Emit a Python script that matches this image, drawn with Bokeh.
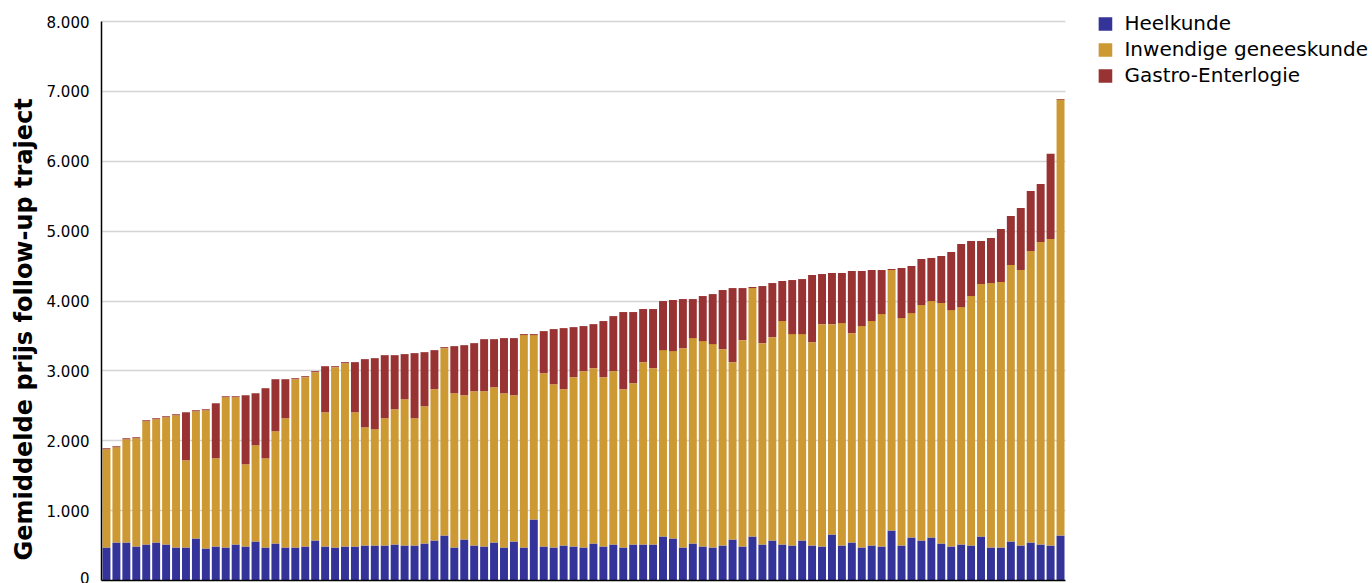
from bokeh.plotting import figure
from bokeh.models import (ColumnDataSource, Range1d, FixedTicker, Legend, LegendItem, Title)
from bokeh.embed import file_html
from bokeh.resources import INLINE

# ---- data ----
ziekenhuis = list(range(1, 98))

heelkunde = [473, 545, 545, 487, 516, 545, 516, 473, 473, 602,
             459, 487, 473, 516, 487, 559, 473, 530, 473, 473,
             487, 573, 487, 473, 487, 487, 502, 502, 502, 516,
             502, 502, 530, 573, 645, 473, 588, 502, 487, 545,
             473, 559, 473, 874, 487, 473, 502, 487, 473, 530,
             487, 516, 473, 516, 516, 516, 631, 602, 473, 530,
             487, 473, 502, 588, 487, 631, 516, 573, 516, 502,
             573, 502, 487, 659, 502, 545, 473, 502, 487, 717,
             502, 616, 573, 616, 530, 487, 516, 502, 631, 473,
             473, 559, 502, 545, 516, 502, 645]

inwendige = [1405, 1361, 1476, 1548, 1763, 1763, 1820, 1892, 1247, 1820,
             1978, 1262, 2150, 2107, 1176, 1376, 1276, 1606, 1849, 2408,
             2423, 2408, 1921, 2580, 2623, 1921, 1691, 1662, 1820, 1935,
             2092, 1820, 1964, 2165, 2680, 2207, 2064, 2207, 2222, 2221,
             2207, 2093, 3039, 2638, 2480, 2336, 2236, 2423, 2523, 2509,
             2423, 2480, 2265, 2308, 2609, 2523, 2666, 2681, 2852, 2939,
             2939, 2910, 2809, 2537, 2953, 3554, 2881, 2910, 3197, 3024,
             2953, 2909, 3182, 3010, 3182, 2995, 3168, 3211, 3326, 3727,
             3254, 3211, 3369, 3383, 3441, 3383, 3397, 3569, 3612, 3784,
             3799, 3956, 3942, 4171, 4329, 4386, 6236]

gastro = [14, 15, 14, 15, 14, 14, 15, 14, 688, 15,
          14, 788, 14, 14, 989, 745, 1003, 745, 559, 14,
          14, 15, 659, 14, 15, 717, 975, 1018, 903, 774,
          646, 932, 774, 559, 15, 674, 716, 688, 745, 688,
          789, 817, 14, 14, 602, 789, 874, 716, 645, 630,
          803, 788, 1104, 1018, 760, 846, 702, 731, 703, 559,
          645, 716, 846, 1060, 745, 15, 817, 774, 573, 774,
          788, 961, 717, 732, 717, 889, 788, 731, 631, 14,
          716, 674, 659, 617, 673, 832, 903, 788, 616, 645,
          759, 703, 888, 860, 831, 1218, 10]

series_names = ["Heelkunde", "Inwendige geneeskunde", "Gastro-Enterlogie"]
series_colors = ["#333399", "#CC9933", "#993333"]

y_ticks = [0, 1000, 2000, 3000, 4000, 5000, 6000, 7000, 8000]
y_tick_labels = ["0", "1.000", "2.000", "3.000", "4.000", "5.000", "6.000", "7.000", "8.000"]
y_label = "Gemiddelde prijs follow-up traject"

# ---- layout (pixels) ----
W, H = 1368, 583
LEFT, BAR_RIGHT = 101, 1065           # bar area spans x = 101 .. 1065
FRAME_TOP, FRAME_BOTTOM, GRID_TOP = 11, 580, 21
n = len(ziekenhuis)
x_start = 0.5
x_bar_end = n + 0.5
x_end = x_start + (x_bar_end - x_start) * (W - LEFT) / (BAR_RIGHT - LEFT)
y_max = y_ticks[-1]
y_end = y_max * (FRAME_BOTTOM - FRAME_TOP) / (FRAME_BOTTOM - GRID_TOP)

source = ColumnDataSource(dict(x=ziekenhuis, heelkunde=heelkunde,
                               inwendige=inwendige, gastro=gastro))

p = figure(width=W, height=H, output_backend="svg", toolbar_location=None,
           x_range=Range1d(x_start, x_end), y_range=Range1d(0, y_end))
p.min_border_left = LEFT
p.min_border_right = 0
p.min_border_top = FRAME_TOP
p.min_border_bottom = H - FRAME_BOTTOM
p.outline_line_color = None
p.background_fill_color = "white"

renderers = p.vbar_stack(["heelkunde", "inwendige", "gastro"], x="x", width=0.8,
                         color=series_colors, line_width=0, source=source)

# axes
p.xaxis.ticker = FixedTicker(ticks=[])
p.xaxis.bounds = (x_start, x_bar_end)
p.xaxis.axis_line_color = "black"
p.xaxis.axis_line_width = 1.5
p.xaxis.major_tick_line_color = None
p.xaxis.minor_tick_line_color = None
p.xaxis.major_label_standoff = 0
p.xaxis.major_label_text_font_size = "1px"

p.yaxis.ticker = FixedTicker(ticks=y_ticks)
p.yaxis.bounds = (0, y_max)
p.yaxis.major_label_overrides = {t: l for t, l in zip(y_ticks, y_tick_labels)}
p.yaxis.axis_line_color = "black"
p.yaxis.axis_line_width = 1.5
p.yaxis.major_tick_line_color = None
p.yaxis.minor_tick_line_color = None
p.yaxis.major_tick_out = 0
p.yaxis.major_label_standoff = 12
p.yaxis.major_label_text_font = "DejaVu Sans"
p.yaxis.major_label_text_font_size = "15px"
p.yaxis.major_label_text_color = "black"

ytitle = Title(text=y_label, align="left", offset=20, standoff=12,
               text_font="DejaVu Sans", text_font_style="bold",
               text_font_size="24px", text_color="black")
p.add_layout(ytitle, "left")

p.xgrid.grid_line_color = None
ygrid = p.ygrid[0]
if "cross_bounds" in ygrid.properties():
    ygrid.grid_line_color = "#d4d4d4"
    ygrid.grid_line_width = 1.5
    ygrid.cross_bounds = (x_start, x_bar_end)
else:
    ygrid.visible = False
    gsrc = ColumnDataSource(dict(y=y_ticks))
    p.segment(x0=x_start, x1=x_bar_end, y0="y", y1="y", source=gsrc,
              line_color="#d4d4d4", line_width=1.5, level="underlay")

legend = Legend(items=[LegendItem(label=nm, renderers=[r]) for nm, r in zip(series_names, renderers)],
                location="top_right")
legend.glyph_width = 17
legend.glyph_height = 17
legend.label_height = 17
legend.label_standoff = 11
legend.spacing = 2
legend.padding = 0
legend.margin = 0
legend.border_line_color = None
legend.background_fill_alpha = 0
legend.label_text_font = "DejaVu Sans"
legend.label_text_font_size = "20px"
legend.label_text_color = "black"
p.add_layout(legend)

open("out.html", "w").write(file_html(p, INLINE))
